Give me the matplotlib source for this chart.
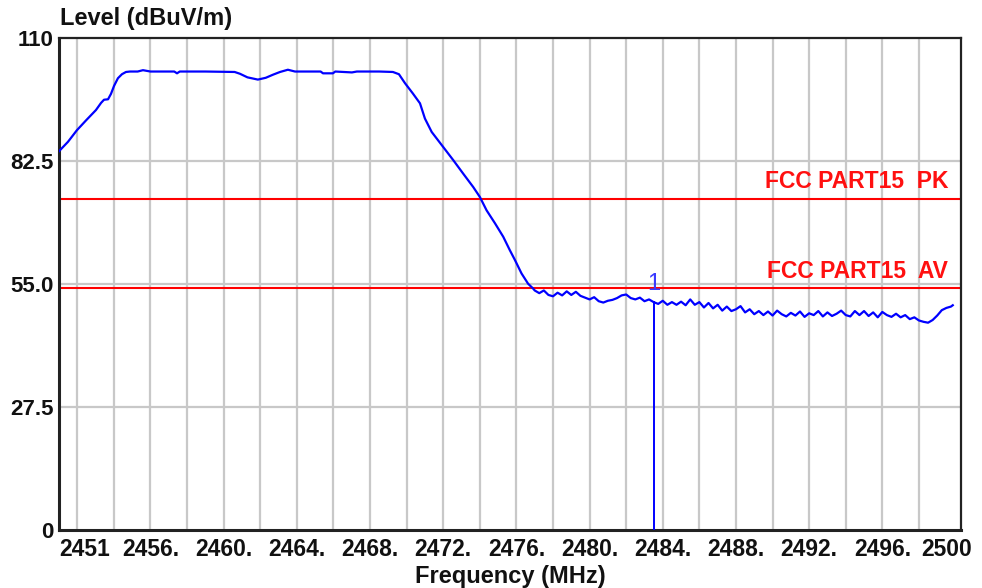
import matplotlib
matplotlib.use("Agg")
import matplotlib.pyplot as plt
import matplotlib.transforms as mtransforms

plt.rcParams['font.family'] = ['Liberation Sans', 'DejaVu Sans']

# sweep data, frequency in MHz / level in dBuV/m
rise_freq = [2451.0, 2451.49, 2451.98, 2452.48, 2453.02, 2453.30, 2453.46, 2453.68,
             2453.84, 2454.01, 2454.22, 2454.44, 2454.66, 2454.88]
rise_level = [84.6, 86.7, 89.3, 91.5, 93.8, 95.4, 96.1, 96.2,
              97.4, 99.2, 100.9, 101.8, 102.3, 102.4]

plateau_freq = [2455.3, 2455.59, 2456.0, 2457.3, 2457.45, 2457.6, 2459.0, 2460.6,
                2460.89, 2461.3, 2461.87, 2462.3, 2462.7, 2463.08, 2463.51, 2463.9,
                2465.3, 2465.43, 2465.97, 2466.1, 2467.01, 2467.28, 2468.5]
plateau_level = [102.4, 102.7, 102.4, 102.4, 102.0, 102.4, 102.4, 102.3,
                 101.9, 101.1, 100.6, 101.0, 101.7, 102.3, 102.8, 102.4,
                 102.4, 102.0, 102.0, 102.4, 102.2, 102.4, 102.4]

skirt_freq = [2469.25, 2469.58, 2469.91, 2470.34, 2470.73, 2471.0, 2471.37, 2471.91,
              2472.55, 2473.09, 2473.64, 2474.0, 2474.37, 2474.83, 2475.28, 2475.64,
              2475.92, 2476.28, 2476.64, 2476.92]
skirt_level = [102.3, 101.8, 99.8, 97.5, 95.3, 91.9, 88.9, 86.0,
               82.6, 79.6, 76.6, 74.4, 71.4, 68.5, 65.5, 62.5,
               60.3, 57.3, 55.0, 53.9]

floor_freq = [2477.00, 2477.25, 2477.50, 2477.75, 2478.00, 2478.25, 2478.50, 2478.75,
              2479.00, 2479.25, 2479.50, 2479.75, 2480.00, 2480.25, 2480.50, 2480.75,
              2481.00, 2481.25, 2481.50, 2481.75, 2482.00, 2482.25, 2482.50, 2482.75,
              2483.00, 2483.25, 2483.50, 2483.75, 2484.00, 2484.25, 2484.50, 2484.75,
              2485.00, 2485.25, 2485.50, 2485.75, 2486.00, 2486.25, 2486.50, 2486.75,
              2487.00, 2487.25, 2487.50, 2487.75, 2488.00, 2488.25, 2488.50, 2488.75,
              2489.00, 2489.25, 2489.50, 2489.75, 2490.00, 2490.25, 2490.50, 2490.75,
              2491.00, 2491.25, 2491.50, 2491.75, 2492.00, 2492.25, 2492.50, 2492.75,
              2493.00, 2493.25, 2493.50, 2493.75, 2494.00, 2494.25, 2494.50, 2494.75,
              2495.00, 2495.25, 2495.50, 2495.75, 2496.00, 2496.25, 2496.50, 2496.75,
              2497.00, 2497.25, 2497.50, 2497.75, 2498.00, 2498.25, 2498.50, 2498.75,
              2499.00, 2499.25, 2499.50, 2499.75, 2499.85]
floor_level = [53.5, 52.9, 53.5, 52.5, 52.2, 53.0, 52.4, 53.3,
               52.5, 53.2, 52.3, 51.9, 51.5, 52.0, 51.1, 50.8,
               51.2, 51.4, 51.8, 52.4, 52.6, 51.8, 51.5, 51.9,
               51.1, 51.5, 50.9, 50.5, 51.2, 50.3, 50.9, 50.3,
               51.0, 50.2, 51.5, 50.3, 50.9, 49.7, 50.7, 49.5,
               50.3, 49.0, 49.9, 48.9, 49.3, 50.0, 48.6, 49.3,
               48.2, 48.9, 48.0, 48.8, 47.9, 49.0, 48.2, 47.7,
               48.5, 47.9, 48.8, 47.6, 48.4, 48.0, 48.9, 47.7,
               48.6, 47.8, 48.3, 49.0, 48.0, 47.7, 48.9, 48.0,
               48.9, 47.8, 48.6, 47.5, 48.7, 48.0, 47.6, 48.3,
               47.5, 48.0, 47.1, 47.5, 46.8, 46.5, 46.3, 46.9,
               47.9, 49.1, 49.6, 49.9, 50.2]

freq = rise_freq + plateau_freq + skirt_freq + floor_freq
level = rise_level + plateau_level + skirt_level + floor_level

# limit lines
limit_names = ["FCC PART15  PK", "FCC PART15  AV"]
limit_values = [74.0, 54.0]

# marker 1
marker_freq = 2483.5
marker_level = 50.9

x_ticks = [2451, 2456, 2460, 2464, 2468, 2472, 2476, 2480, 2484, 2488, 2492, 2496, 2500]
x_labels = ["2451", "2456.", "2460.", "2464.", "2468.", "2472.", "2476.", "2480.",
            "2484.", "2488.", "2492.", "2496.", "2500"]
x_grid = list(range(2452, 2500, 2))
y_ticks = [0, 27.5, 55.0, 82.5, 110]
y_labels = ["0", "27.5", "55.0", "82.5", "110"]

fig = plt.figure(figsize=(9.82, 5.88), dpi=100)
ax = fig.add_axes([59 / 982, 1 - 530 / 588, 902 / 982, 492.5 / 588])

ax.set_xlim(2451, 2500.3)
ax.set_ylim(0, 110)

# grid on minor ticks so it does not depend on the labelled positions
ax.xaxis.remove_overlapping_locs = False
ax.yaxis.remove_overlapping_locs = False
ax.set_xticks(x_grid, minor=True)
ax.set_yticks([27.5, 55.0, 82.5], minor=True)
ax.grid(which='minor', color='#c8c8c8', linewidth=1.6)
ax.set_axisbelow(True)

ax.set_xticks(x_ticks)
ax.set_xticklabels(x_labels)
ax.set_yticks(y_ticks)
ax.set_yticklabels(y_labels)
ax.tick_params(which='both', length=0)
ax.tick_params(axis='x', pad=6, labelsize=16.5, labelcolor='#111111')
ax.tick_params(axis='y', pad=4, labelsize=16, labelcolor='#111111')
for lbl in ax.get_xticklabels() + ax.get_yticklabels():
    lbl.set_fontweight('bold')
xl = ax.get_xticklabels()
xl[0].set_ha('left')
xl[-1].set_ha('right')
xl[-1].set_transform(xl[-1].get_transform() +
                     mtransforms.ScaledTranslation(0.16, 0, fig.dpi_scale_trans))

for side in ['left', 'bottom', 'right', 'top']:
    ax.spines[side].set_color('#222222')
    ax.spines[side].set_linewidth(1.6)
ax.spines['left'].set_linewidth(2.2)
ax.spines['bottom'].set_linewidth(2.2)

# limit lines with their names
for name, val in zip(limit_names, limit_values):
    ax.axhline(val, color='#ff0000', linewidth=1.5, zorder=2)
    ax.text(0.9856, val + 1.2, name, transform=ax.get_yaxis_transform(),
            ha='right', va='bottom', color='#ff1010', fontsize=16.5, fontweight='bold')

# trace
ax.plot(freq, level, color='#0000ff', linewidth=1.6, zorder=3)

# marker
ax.plot([marker_freq, marker_freq], [0, marker_level], color='#0000ff', linewidth=1.4, zorder=3)
ax.text(marker_freq, marker_level + 1.6, "1", ha='center', va='bottom',
        color='#3a3aff', fontsize=17)

fig.text(60 / 982, 1 - 18 / 588, "Level (dBuV/m)", ha='left', va='center',
         fontsize=17, fontweight='bold', color='#111111')
fig.text(510 / 982, 1 - 576 / 588, "Frequency (MHz)", ha='center', va='center',
         fontsize=17, fontweight='bold', color='#111111')

fig.savefig("out.png", dpi=100)
